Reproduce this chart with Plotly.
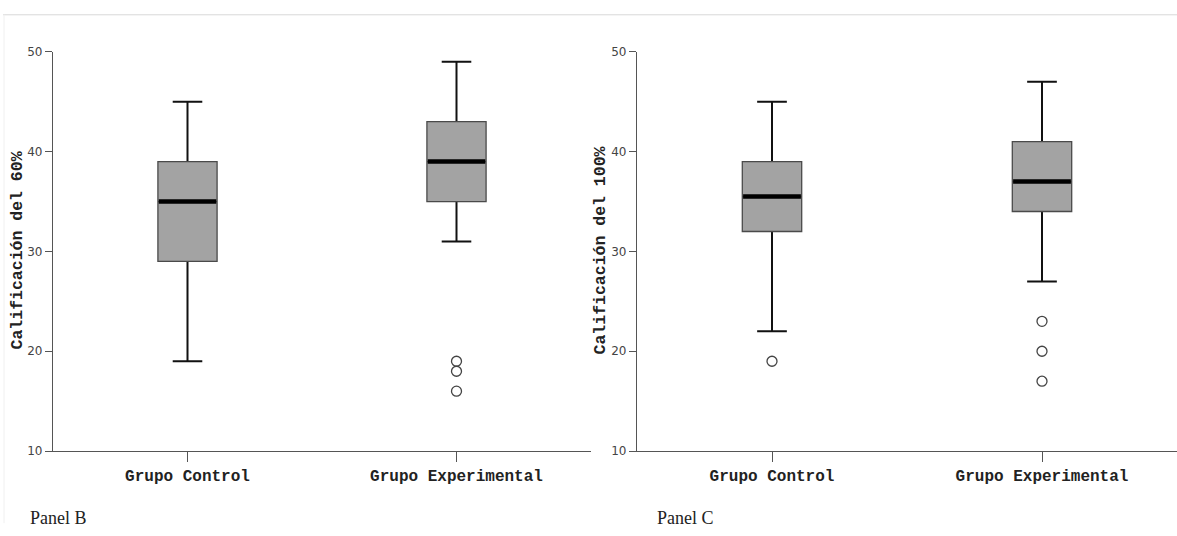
import plotly.graph_objects as go

W, H = 1177, 536

groups = ["Grupo Control", "Grupo Experimental"]
group_pos = [0, 1]

# Panel B: Calificación del 60%
b_low = [19, 31]
b_q1 = [29, 35]
b_med = [35, 39]
b_q3 = [39, 43]
b_high = [45, 49]
b_out_ctrl = []
b_out_exp = [19, 18, 16]

# Panel C: Calificación del 100%
c_low = [22, 27]
c_q1 = [32, 34]
c_med = [35.5, 37]
c_q3 = [39, 41]
c_high = [45, 47]
c_out_ctrl = [19]
c_out_exp = [23, 20, 17]

y_ticks = [10, 20, 30, 40, 50]
titles = ["Calificación del 60%", "Calificación del 100%"]
panel_labels = ["Panel B", "Panel C"]

BOX_W = 0.22
CAP_W = 0.11
fig = go.Figure()

panels = [
    (b_low, b_q1, b_med, b_q3, b_high, [b_out_ctrl, b_out_exp], "x", "y"),
    (c_low, c_q1, c_med, c_q3, c_high, [c_out_ctrl, c_out_exp], "x2", "y2"),
]

for low, q1, med, q3, high, outs, xa, ya in panels:
    # whiskers (black): collapsed box at the median, hidden by the body drawn on top
    inner_w = BOX_W - 0.04
    fig.add_trace(go.Box(
        x=group_pos, lowerfence=low, q1=med, median=med, q3=med, upperfence=high,
        width=inner_w, whiskerwidth=CAP_W / inner_w, boxpoints=False,
        fillcolor="#a3a3a3", line=dict(color="#111", width=2),
        xaxis=xa, yaxis=ya, showlegend=False, hoverinfo="skip",
    ))
    # box body with thin gray outline
    fig.add_trace(go.Box(
        x=group_pos, lowerfence=q1, q1=q1, median=med, q3=q3, upperfence=q3,
        width=BOX_W, whiskerwidth=0, boxpoints=False,
        fillcolor="#a3a3a3", line=dict(color="#4a4a4a", width=1.3),
        xaxis=xa, yaxis=ya, showlegend=False, hoverinfo="skip",
    ))
    # thick median lines
    for p, m in zip(group_pos, med):
        fig.add_trace(go.Scatter(
            x=[p - BOX_W / 2 + 0.003, p + BOX_W / 2 - 0.003], y=[m, m], mode="lines",
            line=dict(color="black", width=4.5), xaxis=xa, yaxis=ya,
            showlegend=False, hoverinfo="skip",
        ))
    for p, o in zip(group_pos, outs):
        if o:
            fig.add_trace(go.Scatter(
                x=[p] * len(o), y=o, mode="markers",
                marker=dict(symbol="circle-open", size=10, color="#444",
                            line=dict(width=1.3, color="#444")),
                xaxis=xa, yaxis=ya, showlegend=False, hoverinfo="skip",
            ))

ydom = [(H - 456) / H, (H - 46) / H]
axis_common = dict(showgrid=False, zeroline=False, showline=True,
                   linecolor="#555", linewidth=1.2, ticks="outside", tickcolor="#555")

xdoms = [[53 / W, 591 / W], [637 / W, 1.0]]
for i, (xa, ya) in enumerate([("xaxis", "yaxis"), ("xaxis2", "yaxis2")]):
    fig.layout[xa] = dict(
        domain=xdoms[i], range=[-0.5, 1.5], tickvals=group_pos, ticktext=groups,
        ticklen=10, tickwidth=1.2, anchor="y" if i == 0 else "y2",
        tickfont=dict(family="Liberation Mono", size=16, color="#222", weight="bold"),
        **axis_common,
    )
    fig.layout[ya] = dict(
        domain=ydom, range=[10, 50], tickvals=y_ticks, ticklen=7, tickwidth=1.2,
        anchor="x" if i == 0 else "x2",
        tickfont=dict(family="DejaVu Sans", size=12, color="#444"),
        **axis_common,
    )

annotations = []
title_x = [17, 600]
panel_x = [28, 655]
for i in range(2):
    annotations.append(dict(
        text="<b>" + titles[i] + "</b>", x=title_x[i] / W, y=(H - 250) / H,
        xref="paper", yref="paper", showarrow=False, textangle=-90,
        xanchor="center", yanchor="middle",
        font=dict(family="Liberation Mono", size=16.5, color="#222"),
    ))
    annotations.append(dict(
        text=panel_labels[i], x=panel_x[i] / W, y=(H - 525) / H,
        xref="paper", yref="paper", showarrow=False,
        xanchor="left", yanchor="middle",
        font=dict(family="Liberation Serif", size=18, color="#222"),
    ))

shapes = [
    dict(type="line", xref="paper", yref="paper", x0=3 / W, x1=1, y0=(H - 8) / H, y1=(H - 8) / H,
         line=dict(color="#d8d8d8", width=1)),
    dict(type="line", xref="paper", yref="paper", x0=4 / W, x1=4 / W, y0=(H - 8) / H, y1=(H - 530) / H,
         line=dict(color="#f0f0f0", width=1)),
]

fig.update_layout(
    width=W, height=H, margin=dict(l=0, r=0, t=0, b=0),
    paper_bgcolor="white", plot_bgcolor="white",
    annotations=annotations, shapes=shapes, showlegend=False,
)

fig.write_html("out.html")
